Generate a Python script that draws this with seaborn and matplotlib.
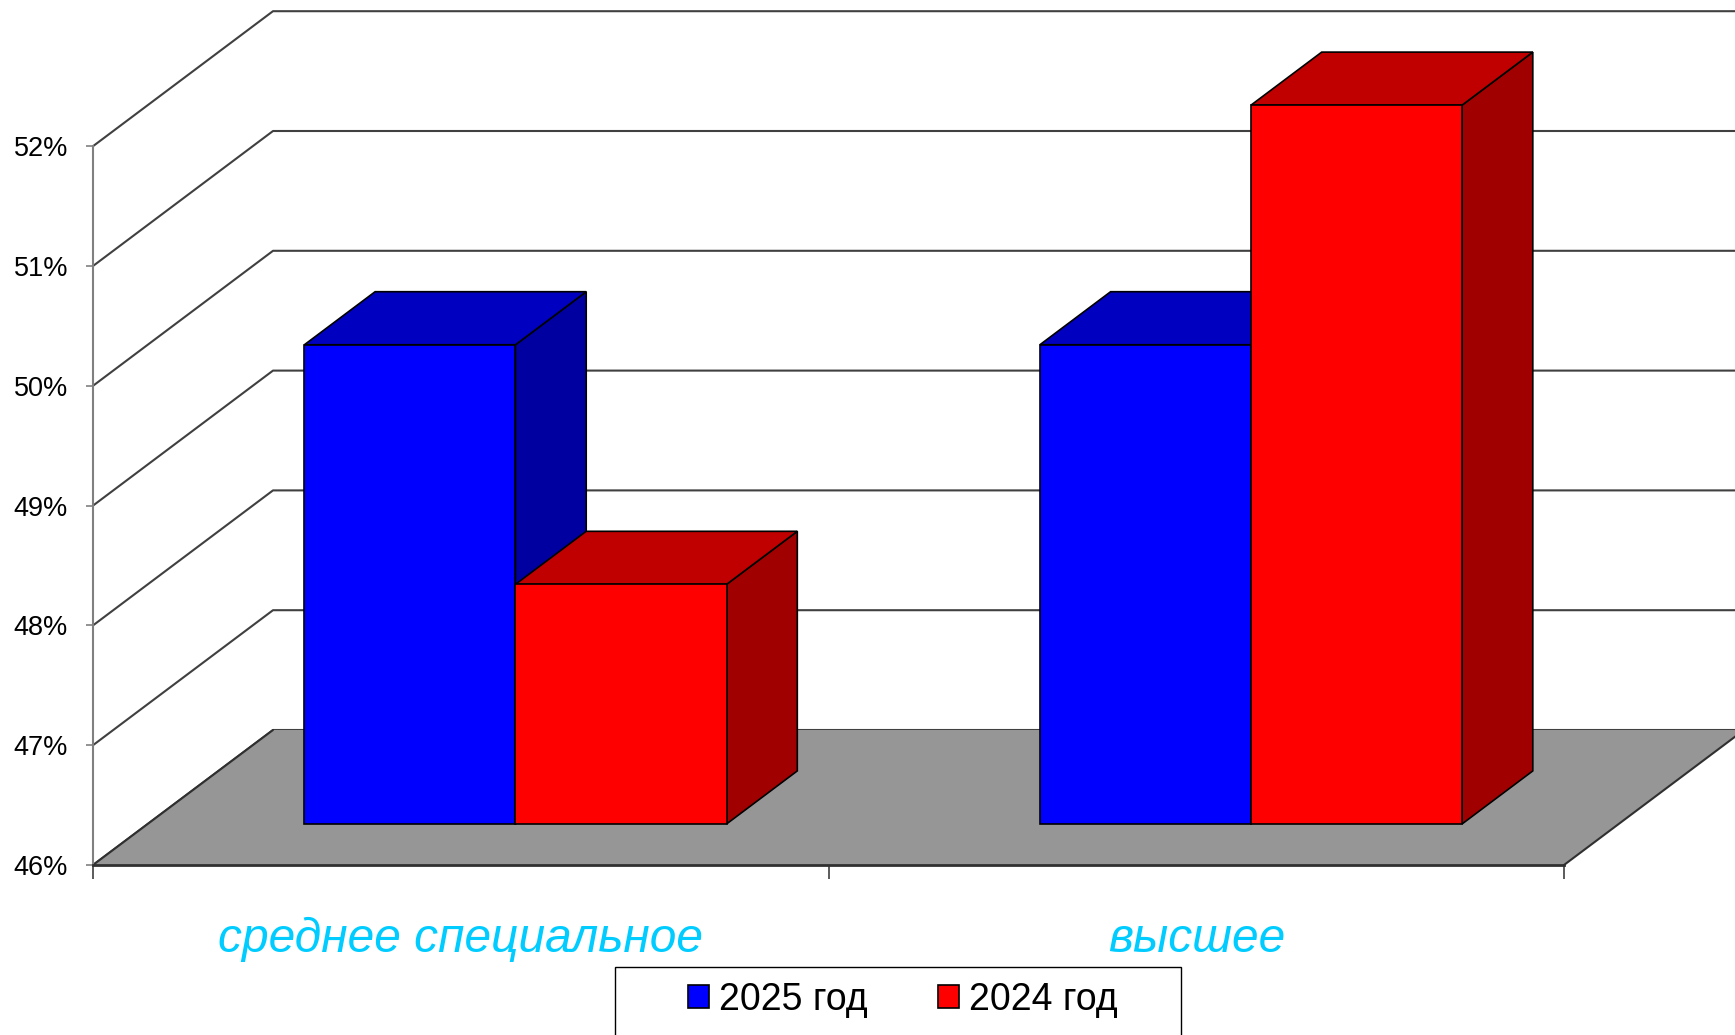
import pandas as pd
import seaborn as sns
import matplotlib.pyplot as plt
from matplotlib.patches import Polygon, Rectangle

levels = ["среднее специальное", "высшее"]
years = ["2025 год", "2024 год"]
share_2025 = [50, 50]
share_2024 = [48, 52]
yticks = [46, 47, 48, 49, 50, 51, 52]

front_colors = ["#0000FF", "#FF0000"]
top_colors = ["#0000C0", "#C00000"]
side_colors = ["#0000A0", "#A00000"]

df = pd.DataFrame({
    "level": levels * 2,
    "share": share_2025 + share_2024,
    "year": [years[0]] * 2 + [years[1]] * 2,
})

sns.set_style("white")
plt.rcParams["font.family"] = ["Liberation Sans", "DejaVu Sans"]
plt.rcParams["text.color"] = "black"

fig = plt.figure(figsize=(17.35, 10.35), dpi=100)
ax = fig.add_axes([93 / 1735, 170 / 1035, 1471 / 1735, 865 / 1035])

sns.barplot(data=df, x="level", y="share", hue="year", hue_order=years, order=levels,
            palette=front_colors, saturation=1, width=0.574, errorbar=None,
            edgecolor="black", linewidth=1.2, legend=False, ax=ax)

base = yticks[0]
ax.set_xlim(-0.5, 1.5)
ax.set_ylim(base, base + 865 / 119.8)

# fake 3d: depth of the box and where the bars sit inside it (data units)
DX = 180 / 735.5
DY = 135 / 119.8
f_front, f_depth = 0.304, 0.393
fx, fy = f_front * DX, f_front * DY
bx, by = f_depth * DX, f_depth * DY

# back wall gridlines + left wall diagonals
for v in yticks:
    ax.plot([-0.5, -0.5 + DX, 1.5 + DX + 0.05], [v, v + DY, v + DY],
            color="#404040", lw=1.5, zorder=1, clip_on=False)

# floor
floor = Polygon([(-0.5, base), (1.5, base), (1.5 + DX, base + DY), (-0.5 + DX, base + DY)],
                closed=True, facecolor="#969696", edgecolor="none", zorder=2, clip_on=False)
ax.add_patch(floor)
for x in [-0.5, 1.5]:
    ax.plot([x, x + DX], [base, base + DY], color="#303030", lw=1.5, zorder=3, clip_on=False)

# bars: move the front face into the box, add side and top faces
items = []
for k, cont in enumerate(ax.containers):
    for p in cont.patches:
        items.append((p.get_x(), k, p))
items.sort(key=lambda t: t[0])

for i, (x0, k, p) in enumerate(items):
    w = p.get_width()
    val = p.get_height()
    x0 = x0 + fx
    x1 = x0 + w
    b = base + fy
    t = val + fy
    p.set_x(x0)
    p.set_y(b)
    p.set_height(val - base)
    p.set_zorder(10 + i + 0.2)
    side = Polygon([(x1, b), (x1, t), (x1 + bx, t + by), (x1 + bx, b + by)], closed=True,
                   facecolor=side_colors[k], edgecolor="black", lw=1.2, zorder=10 + i)
    top = Polygon([(x0, t), (x1, t), (x1 + bx, t + by), (x0 + bx, t + by)], closed=True,
                  facecolor=top_colors[k], edgecolor="black", lw=1.2, zorder=10 + i + 0.1)
    ax.add_patch(side)
    ax.add_patch(top)

# axes
sns.despine(ax=ax)
ax.spines["left"].set_bounds(base, yticks[-1])
ax.spines["left"].set_color("#808080")
ax.spines["left"].set_linewidth(1.5)
ax.spines["left"].set_zorder(4)
ax.spines["bottom"].set_color("#303030")
ax.spines["bottom"].set_linewidth(2)
ax.spines["bottom"].set_zorder(4)

ax.set_yticks(yticks, labels=[f"{v}%" for v in yticks])
ax.set_xticks([-0.5, 0.5, 1.5], labels=["", "", ""])
ax.tick_params(axis="y", left=True, length=5, width=1.2, color="#808080", pad=13,
               labelsize=19.5, labelcolor="black")
ax.tick_params(axis="x", bottom=True, length=10, width=1.2, color="#404040")
ax.set_xlabel("")
ax.set_ylabel("")

for i, name in enumerate(levels):
    ax.text(i, base - 87 / 119.8, name, ha="center", va="baseline", fontsize=34.5,
            style="italic", color="#00CCFF")

# legend
handles = [Rectangle((0, 0), 1, 1, facecolor=c, edgecolor="black", lw=1.2) for c in front_colors]
fig.add_artist(Rectangle((615 / 1735, -0.05), 566 / 1735, 0.05 + 68 / 1035,
                         transform=fig.transFigure, facecolor="white", edgecolor="black",
                         lw=1, zorder=1))
fig.legend(handles, years, loc="center", bbox_to_anchor=(903 / 1735, 1 - 1000 / 1035),
           ncol=2, frameon=False, fontsize=27, handlelength=0.56, handleheight=0.56,
           handletextpad=0.27, columnspacing=1.87, borderpad=0, labelcolor="black")

fig.savefig("out.png", dpi=100)
